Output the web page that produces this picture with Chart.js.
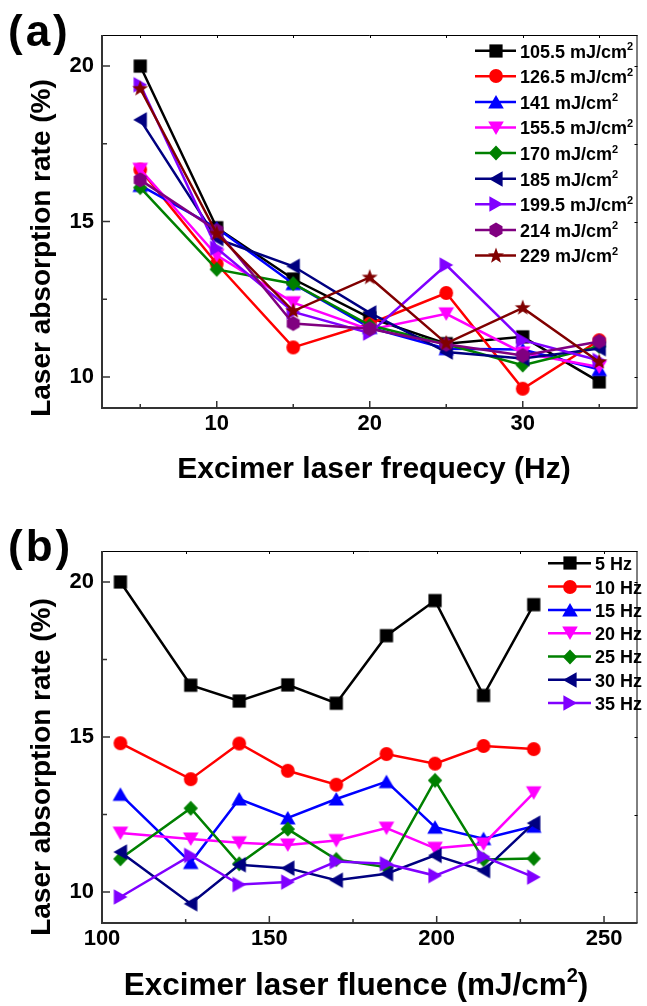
<!DOCTYPE html>
<html><head><meta charset="utf-8">
<script src="https://cdn.jsdelivr.net/npm/chart.js@4.4.1/dist/chart.umd.min.js"></script>
<style>
html,body{margin:0;padding:0;background:#fff;}
body{width:647px;height:1006px;position:relative;overflow:hidden;font-family:"Liberation Sans",Arial,sans-serif;}
.box{position:absolute;left:0;width:647px;}
#boxA{top:0;height:495px;}
#boxB{top:495px;height:511px;}
canvas{display:block;}
.lbl{position:absolute;left:8px;font-weight:bold;font-size:44px;letter-spacing:3px;line-height:1;color:#000;}
</style></head><body>
<div class="box" id="boxA"><canvas id="cA" width="647" height="495"></canvas></div>
<div class="box" id="boxB"><canvas id="cB" width="647" height="511"></canvas></div>
<div class="lbl" style="top:9px">(a)</div>
<div class="lbl" style="top:524px">(b)</div>
<script>
// ---------- data ----------
const frequencies = [5, 10, 15, 20, 25, 30, 35];
const fluences = [105.5, 126.5, 141, 155.5, 170, 185, 199.5, 214, 229];
// absorption rate (%) for each frequency, across fluences
const hz5  = [20.00, 16.67, 16.16, 16.68, 16.09, 18.27, 19.40, 16.34, 19.27];
const hz10 = [14.80, 13.64, 14.79, 13.91, 13.46, 14.45, 14.14, 14.71, 14.61];
const hz15 = [13.15, 10.95, 13.00, 12.39, 13.00, 13.56, 12.09, 11.72, 12.12];
const hz20 = [11.90, 11.71, 11.59, 11.52, 11.66, 12.06, 11.41, 11.55, 13.20];
const hz25 = [11.07, 12.70, 10.91, 12.03, 11.05, 10.80, 13.60, 11.05, 11.08];
const hz30 = [11.29, 9.62, 10.88, 10.77, 10.38, 10.59, 11.18, 10.69, 12.22];
const hz35 = [9.84, 11.18, 10.24, 10.32, 10.98, 10.91, 10.53, 11.14, 10.48];
const yTickValues = [10, 15, 20];
const yMinorValues = [12.5, 17.5];
const xTickValuesA = [10, 20, 30];
const xMinorValuesA = [5, 15, 25, 35];
const xTickValuesB = [100, 150, 200, 250];
const xMinorValuesB = [125, 175, 225];
const fluenceLabels = ['105.5 mJ/cm\u00B2', '126.5 mJ/cm\u00B2', '141 mJ/cm\u00B2', '155.5 mJ/cm\u00B2', '170 mJ/cm\u00B2', '185 mJ/cm\u00B2', '199.5 mJ/cm\u00B2', '214 mJ/cm\u00B2', '229 mJ/cm\u00B2'];
const freqLabels = ['5 Hz', '10 Hz', '15 Hz', '20 Hz', '25 Hz', '30 Hz', '35 Hz'];
const yTitle = 'Laser absorption rate (%)';
const xTitleA = 'Excimer laser frequecy (Hz)';
const xTitleB = 'Excimer laser fluence (mJ/cm\u00B2)';
const colors = ['#000000', '#ff0000', '#0000ff', '#ff00ff', '#008000', '#000080', '#8000ff', '#800080', '#800000'];
const shapes = ['square', 'circle', 'up', 'down', 'diamond', 'left', 'right', 'hex', 'star'];

const byFreq = [hz5, hz10, hz15, hz20, hz25, hz30, hz35];
const FONT = '"Liberation Sans", Arial, Helvetica, sans-serif';

// ---------- markers ----------
function polygon(g, pts) { g.moveTo(pts[0][0], pts[0][1]); for (let i = 1; i < pts.length; i++) g.lineTo(pts[i][0], pts[i][1]); g.closePath(); }
function marker(shape, color) {
  const S = 20, c = document.createElement('canvas');
  c.width = S; c.height = S;
  const g = c.getContext('2d');
  g.fillStyle = color; g.translate(S / 2, S / 2); g.beginPath();
  switch (shape) {
    case 'square': g.rect(-6.6, -6.6, 13.2, 13.2); break;
    case 'circle': g.arc(0, 0, 6.9, 0, 2 * Math.PI); break;
    case 'up': polygon(g, [[0, -7], [7.8, 6.6], [-7.8, 6.6]]); break;
    case 'down': polygon(g, [[0, 7], [7.8, -6.6], [-7.8, -6.6]]); break;
    case 'left': polygon(g, [[-7, 0], [6.6, -7.8], [6.6, 7.8]]); break;
    case 'right': polygon(g, [[7, 0], [-6.6, -7.8], [-6.6, 7.8]]); break;
    case 'diamond': polygon(g, [[0, -7.4], [7.2, 0], [0, 7.4], [-7.2, 0]]); break;
    case 'hex': { const p = []; for (let k = 0; k < 6; k++) { const a = -Math.PI / 2 + k * Math.PI / 3; p.push([7.5 * Math.cos(a), 7.5 * Math.sin(a)]); } polygon(g, p); break; }
    case 'star': { const p = []; for (let k = 0; k < 10; k++) { const r = k % 2 ? 3.5 : 8.4; const a = -Math.PI / 2 + k * Math.PI / 5; p.push([r * Math.cos(a), r * Math.sin(a)]); } polygon(g, p); break; }
  }
  g.fill();
  return c;
}

// draw text where "²" is rendered as a raised small "2"; align: 'center' or 'left'
function drawSup(ctx, text, x0, cy, size, align) {
  const runs = text.split('\u00B2');
  const parts = [];
  runs.forEach((r, i) => { if (i > 0) parts.push({ t: '2', sup: true }); if (r) parts.push({ t: r, sup: false }); });
  const big = 'bold ' + size + 'px ' + FONT, small = 'bold ' + Math.round(size * 0.62) + 'px ' + FONT;
  let w = 0;
  parts.forEach(p => { ctx.font = p.sup ? small : big; w += ctx.measureText(p.t).width; });
  let xx = align === 'center' ? x0 - w / 2 : x0;
  ctx.textAlign = 'left'; ctx.textBaseline = 'alphabetic'; ctx.fillStyle = '#000';
  const base = cy + size * 0.36;
  parts.forEach(p => {
    ctx.font = p.sup ? small : big;
    ctx.fillText(p.t, xx, p.sup ? base - size * 0.42 : base);
    xx += ctx.measureText(p.t).width;
  });
}

// ---------- plugin: frame, inward ticks, titles, legend ----------
const framePlugin = {
  id: 'frame',
  afterDraw(chart, args, o) {
    const { ctx, chartArea: { left, right, top, bottom }, scales: { x, y } } = chart;
    ctx.save();
    // thin top/right border
    ctx.strokeStyle = '#000'; ctx.lineWidth = 1;
    ctx.beginPath();
    ctx.moveTo(left, top + 0.5); ctx.lineTo(right, top + 0.5);
    ctx.moveTo(right - 0.5, top); ctx.lineTo(right - 0.5, bottom);
    ctx.stroke();
    // ticks on top and right (small)
    ctx.beginPath();
    o.xMajor.concat(o.xMinor).forEach(v => { const px = Math.round(x.getPixelForValue(v)) + 0.5; ctx.moveTo(px, top); ctx.lineTo(px, top + 3); });
    yTickValues.concat(yMinorValues).forEach(v => { const py = Math.round(y.getPixelForValue(v)) + 0.5; ctx.moveTo(right, py); ctx.lineTo(right - 3, py); });
    ctx.stroke();
    // thick left/bottom axes
    ctx.strokeStyle = '#333'; ctx.lineWidth = 2;
    ctx.beginPath();
    ctx.moveTo(left, top); ctx.lineTo(left, bottom + 1);
    ctx.moveTo(left - 1, bottom); ctx.lineTo(right, bottom);
    ctx.stroke();
    // inward ticks
    ctx.lineWidth = 1.5;
    ctx.beginPath();
    yTickValues.forEach(v => { const py = y.getPixelForValue(v); ctx.moveTo(left, py); ctx.lineTo(left + 8, py); });
    yMinorValues.forEach(v => { const py = y.getPixelForValue(v); ctx.moveTo(left, py); ctx.lineTo(left + 5, py); });
    o.xMajor.forEach(v => { const px = x.getPixelForValue(v); ctx.moveTo(px, bottom); ctx.lineTo(px, bottom - 7); });
    o.xMinor.forEach(v => { const px = x.getPixelForValue(v); ctx.moveTo(px, bottom); ctx.lineTo(px, bottom - 4); });
    ctx.stroke();
    // y title (rotated)
    ctx.save();
    ctx.translate(o.ytX, o.ytY); ctx.rotate(-Math.PI / 2);
    ctx.font = 'bold 28px ' + FONT; ctx.fillStyle = '#000';
    ctx.textAlign = 'center'; ctx.textBaseline = 'middle';
    ctx.fillText(yTitle, 0, 0);
    ctx.restore();
    // x title
    drawSup(ctx, o.xTitle, o.xtX, o.xtY, o.xtSize, 'center');
    // legend
    chart.data.datasets.forEach((ds, i) => {
      const yy = o.lgY0 + i * o.lgDy;
      ctx.strokeStyle = ds.borderColor; ctx.lineWidth = 2.5;
      ctx.beginPath(); ctx.moveTo(o.lgX0, yy); ctx.lineTo(o.lgX1, yy); ctx.stroke();
      const m = ds.pointStyle;
      ctx.drawImage(m, Math.round((o.lgX0 + o.lgX1) / 2 - m.width / 2), Math.round(yy - m.height / 2));
      drawSup(ctx, ds.label, o.lgXt, yy + 0.5, o.lgFont, 'left');
    });
    ctx.restore();
  }
};

function makeChart(id, cfg) {
  const datasets = cfg.series.map((vals, i) => ({
    label: cfg.labels[i],
    data: vals.map((v, j) => ({ x: cfg.xs[j], y: v })),
    borderColor: colors[i], backgroundColor: colors[i],
    borderWidth: 2.5, pointStyle: marker(shapes[i], colors[i]),
    pointRadius: 7, pointHoverRadius: 7, tension: 0,
    order: cfg.series.length - i
  }));
  const tickFont = { family: FONT, size: 22, weight: 'bold' };
  return new Chart(document.getElementById(id), {
    type: 'line',
    data: { datasets },
    plugins: [framePlugin],
    options: {
      responsive: false, animation: false, devicePixelRatio: 1,
      layout: { padding: { top: cfg.top, right: 2, left: 0, bottom: 0 } },
      plugins: {
        legend: { display: false }, tooltip: { enabled: false },
        frame: { xMajor: cfg.xMajor, xMinor: cfg.xMinor, lgX0: cfg.lgX0, lgX1: cfg.lgX1, lgXt: cfg.lgXt, lgY0: cfg.lgY0, lgDy: cfg.lgDy, lgFont: 18, ytX: 42, ytY: cfg.ytY,
                 xTitle: cfg.xTitle, xtX: cfg.xtX, xtY: cfg.xtY, xtSize: cfg.xtSize }
      },
      scales: {
        x: {
          type: 'linear', min: cfg.xMin, max: cfg.xMax,
          afterBuildTicks: s => { s.ticks = cfg.xMajor.map(v => ({ value: v })); },
          afterFit: s => { s.height = cfg.xH; },
          grid: { display: false, drawTicks: false }, border: { display: false },
          ticks: { padding: 3, color: '#000', font: tickFont, maxRotation: 0, autoSkip: false },
          title: { display: false }
        },
        y: {
          type: 'linear', min: 9, max: 21,
          afterBuildTicks: s => { s.ticks = yTickValues.map(v => ({ value: v })); },
          afterFit: s => { s.width = 102; },
          grid: { display: false, drawTicks: false }, border: { display: false },
          ticks: { padding: 8, color: '#000', font: tickFont },
          title: { display: false }
        }
      }
    }
  });
}

// (a): one series per fluence, across frequencies
const seriesA = fluences.map((f, i) => byFreq.map(arr => arr[i]));
makeChart('cA', {
  series: seriesA, labels: fluenceLabels, xs: frequencies,
  xMin: 2.5, xMax: 37.5, xMajor: xTickValuesA, xMinor: xMinorValuesA,
  top: 35, xH: 495 - 408, xTitle: xTitleA, xtX: 374, xtY: 467, xtSize: 30,
  lgX0: 475, lgX1: 516, lgXt: 520, lgY0: 50.7, lgDy: 25.6, ytY: 248
});
// (b): one series per frequency, across fluences
makeChart('cB', {
  series: byFreq, labels: freqLabels, xs: fluences,
  xMin: 100, xMax: 260, xMajor: xTickValuesB, xMinor: xMinorValuesB,
  top: 56, xH: 511 - 428, xTitle: xTitleB, xtX: 356, xtY: 489, xtSize: 31.5,
  lgX0: 548, lgX1: 591, lgXt: 595, lgY0: 68.3, lgDy: 23.3, ytY: 272
});
</script>
</body></html>
